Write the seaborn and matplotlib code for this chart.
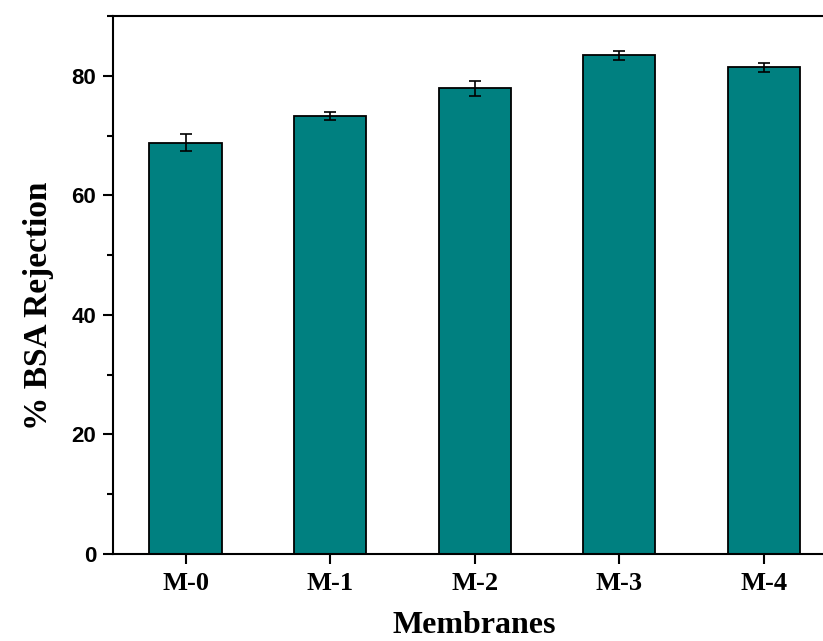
import matplotlib
matplotlib.use("Agg")
import matplotlib.pyplot as plt
from matplotlib.ticker import MultipleLocator
import seaborn as sns
import pandas as pd

# BSA rejection of each membrane with its standard deviation
membranes = ["M-0", "M-1", "M-2", "M-3", "M-4"]
rejection = [68.8, 73.3, 77.9, 83.4, 81.4]
rejection_err = [1.4, 0.7, 1.3, 0.7, 0.7]
y_ticks = [0, 20, 40, 60, 80]

df = pd.DataFrame({"Membrane": membranes, "Rejection": rejection})

sns.set_theme(style="ticks")
plt.rcParams.update({"text.color": "black", "axes.labelcolor": "black",
                     "xtick.color": "black", "ytick.color": "black"})
serif = ["Liberation Serif", "DejaVu Serif"]
sans = ["Liberation Sans", "DejaVu Sans"]

fig = plt.figure(figsize=(8.23, 6.41), dpi=100)
ax = fig.add_axes([113.3 / 823, 1 - 554 / 641, (836 - 113.3) / 823, (554 - 16) / 641])

sns.barplot(data=df, x="Membrane", y="Rejection", color="#008080",
            saturation=1, width=0.5, edgecolor="black", linewidth=1.3,
            errorbar=None, ax=ax)

# error bars centred on each drawn bar
centers = [p.get_x() + p.get_width() / 2 for p in ax.patches]
ax.errorbar(centers, rejection, yerr=rejection_err, fmt="none",
            ecolor="black", elinewidth=1.2, capsize=4, capthick=1.2, zorder=5)

ax.set_xlim(-0.5, 4.5)
ax.set_ylim(0, 90)
ax.set_yticks(y_ticks)
ax.yaxis.set_minor_locator(MultipleLocator(10))

for side in ["left", "bottom", "top", "right"]:
    ax.spines[side].set_linewidth(1.5)
    ax.spines[side].set_color("black")

ax.tick_params(axis="both", which="major", direction="out", length=7.2,
               width=1.5, color="black", labelcolor="black")
ax.tick_params(axis="y", which="minor", direction="out", length=4.3,
               width=1.5, color="black")
ax.tick_params(axis="y", which="major", pad=5)
ax.tick_params(axis="x", which="major", pad=6)

for lbl in ax.get_yticklabels():
    lbl.set_fontfamily(sans)
    lbl.set_fontweight("bold")
    lbl.set_fontsize(16)
for lbl in ax.get_xticklabels():
    lbl.set_fontfamily(serif)
    lbl.set_fontweight("bold")
    lbl.set_fontsize(19)

ax.set_xlabel("Membranes", fontfamily=serif, fontweight="bold", fontsize=23,
              color="black")
ax.set_ylabel("% BSA Rejection", fontfamily=serif, fontweight="bold", fontsize=24,
              color="black")
ax.xaxis.set_label_coords(0.5, -0.106)
ax.yaxis.set_label_coords(-0.082, 0.461)

fig.savefig("out.png", dpi=100)
